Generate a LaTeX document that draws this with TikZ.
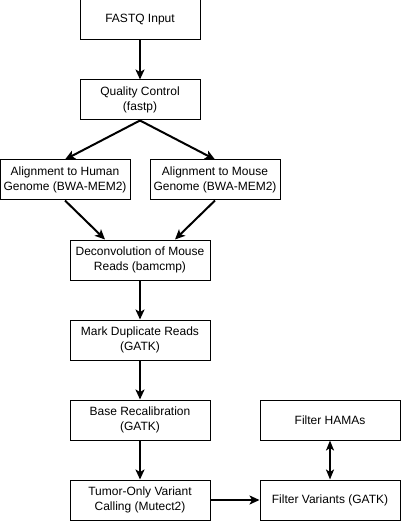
\documentclass[tikz,border=0pt]{standalone}
\usepackage{fontspec}
\setmainfont{Liberation Sans}
\usetikzlibrary{arrows.meta}
\begin{document}
\begin{tikzpicture}[x=1pt,y=-1pt,
  box/.style={draw=black,line width=1pt,fill=white,minimum width=#1,minimum height=40pt,inner sep=0pt,align=center,font=\fontsize{12pt}{14.5pt}\selectfont},
  box/.default=120pt,
  flow/.style={line width=2pt,-{Stealth[length=10pt,width=9pt,inset=2.5pt]}},
  both/.style={line width=2pt,{Stealth[length=10pt,width=8pt,inset=2.5pt]}-{Stealth[length=10pt,width=8pt,inset=2.5pt]}}]
\useasboundingbox (0,0) rectangle (401,521);
\node[box=120pt] (fastq) at (140,20) {FASTQ Input};
\node[box=120pt] (qc) at (140,100) {Quality Control\\(fastp)};
\node[box=130pt] (human) at (65,180) {Alignment to Human\\Genome (BWA-MEM2)};
\node[box=130pt] (mouse) at (215,180) {Alignment to Mouse\\Genome (BWA-MEM2)};
\node[box=140pt] (deconv) at (140,260) {Deconvolution of Mouse\\Reads (bamcmp)};
\node[box=140pt] (mark) at (140,340) {Mark Duplicate Reads\\(GATK)};
\node[box=140pt] (base) at (140,420) {Base Recalibration\\(GATK)};
\node[box=140pt] (tumor) at (140,500) {Tumor-Only Variant\\Calling (Mutect2)};
\node[box=140pt] (hama) at (330,420) {Filter HAMAs};
\node[box=140pt] (filt) at (330,500) {Filter Variants (GATK)};
\draw[flow] (fastq.south) -- (qc.north);
\draw[flow] (qc.south) -- (human.north);
\draw[flow] (qc.south) -- (mouse.north);
\draw[flow] (human.south) -- ([xshift=-35pt]deconv.north);
\draw[flow] (mouse.south) -- ([xshift=35pt]deconv.north);
\draw[flow] (deconv.south) -- (mark.north);
\draw[flow] (mark.south) -- (base.north);
\draw[flow] (base.south) -- (tumor.north);
\draw[flow] (tumor.east) -- (filt.west);
\draw[both] (filt.north) -- (hama.south);
\end{tikzpicture}
\end{document}
